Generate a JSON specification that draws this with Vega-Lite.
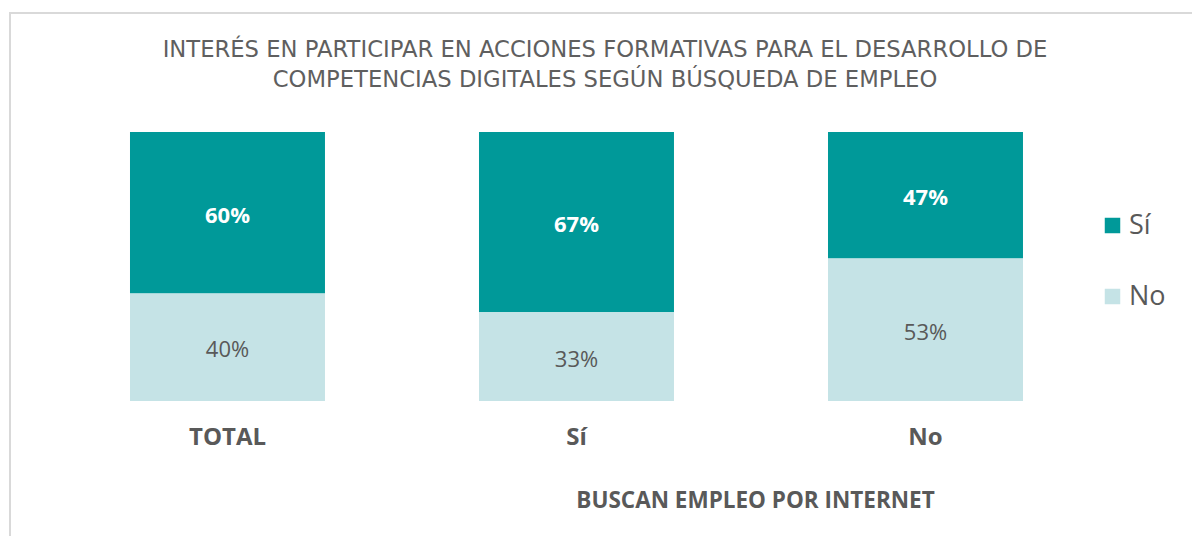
{
  "$schema": "https://vega.github.io/schema/vega-lite/v6.json",
  "width": 1190,
  "height": 527,
  "autosize": {"type": "none"},
  "padding": {"left": 10, "top": 13, "right": 0, "bottom": 0},
  "background": "white",
  "config": {
    "view": {"stroke": "#d9d9d9", "strokeWidth": 2},
    "font": "Open Sans"
  },
  "title": {
    "text": ["INTERÉS EN PARTICIPAR EN ACCIONES FORMATIVAS PARA EL DESARROLLO DE", "COMPETENCIAS DIGITALES SEGÚN BÚSQUEDA DE EMPLEO"],
    "fontSize": 22.7,
    "fontWeight": "normal",
    "font": "DejaVu Sans",
    "color": "#5f5f5f",
    "anchor": "middle",
    "baseline": "middle",
    "lineHeight": 30,
    "offset": -90
  },
  "data": {
    "values": [
      {"grupo": "TOTAL", "resp": "Sí", "pct": 0.60},
      {"grupo": "TOTAL", "resp": "No", "pct": 0.40},
      {"grupo": "Sí", "resp": "Sí", "pct": 0.67},
      {"grupo": "Sí", "resp": "No", "pct": 0.33},
      {"grupo": "No", "resp": "Sí", "pct": 0.47},
      {"grupo": "No", "resp": "No", "pct": 0.53}
    ]
  },
  "transform": [
    {"stack": "pct", "groupby": ["grupo"], "sort": [{"field": "resp", "order": "ascending"}], "as": ["y0", "y1"]},
    {"calculate": "(datum.y0 + datum.y1) / 2", "as": "ymid"}
  ],
  "encoding": {
    "x": {
      "field": "grupo",
      "type": "nominal",
      "sort": ["TOTAL", "Sí", "No"],
      "scale": {"paddingInner": 0.4413, "paddingOuter": 0.4255, "align": 0.404},
      "axis": {
        "title": "BUSCAN EMPLEO POR INTERNET",
        "labelAngle": 0,
        "labelFontSize": 24,
        "labelFontWeight": "bold",
        "labelColor": "#595959",
        "labelBaseline": "middle",
        "labelPadding": -103,
        "domain": false,
        "ticks": false,
        "tickSize": 0,
        "titleFontSize": 22.5,
        "titleFontWeight": "bold",
        "titleColor": "#595959",
        "titleX": 745,
        "titleY": -40,
        "titleBaseline": "middle",
        "titleAlign": "center",
        "titleAnchor": null
      }
    }
  },
  "layer": [
    {
      "mark": {"type": "bar"},
      "encoding": {
        "y": {"field": "y0", "type": "quantitative", "scale": {"domain": [-0.5167, 1.4424], "nice": false, "zero": false}, "axis": null},
        "y2": {"field": "y1"},
        "color": {
          "field": "resp",
          "type": "nominal",
          "scale": {"domain": ["Sí", "No"], "range": ["#009999", "#c5e3e6"]},
          "legend": {
            "title": null,
            "orient": "none",
            "legendX": 1089,
            "legendY": 199,
            "padding": 0,
            "symbolType": "square",
            "symbolSize": 240,
            "symbolStrokeWidth": 0,
            "labelFontSize": 27,
            "labelColor": "#595959",
            "labelOffset": 3,
            "rowPadding": 43
          }
        }
      }
    },
    {
      "transform": [{"filter": "datum.resp === 'Sí'"}],
      "mark": {"type": "text", "fontSize": 22, "fontWeight": "bold", "color": "white", "baseline": "middle", "dy": 3},
      "encoding": {
        "y": {"field": "ymid", "type": "quantitative"},
        "text": {"field": "pct", "type": "quantitative", "format": ".0%"}
      }
    },
    {
      "transform": [{"filter": "datum.resp === 'No'"}],
      "mark": {"type": "text", "fontSize": 22, "fontWeight": "normal", "color": "#595959", "baseline": "middle", "dy": 3},
      "encoding": {
        "y": {"field": "ymid", "type": "quantitative"},
        "text": {"field": "pct", "type": "quantitative", "format": ".0%"}
      }
    }
  ]
}
